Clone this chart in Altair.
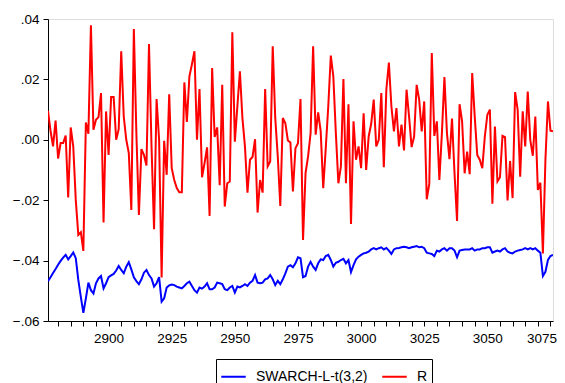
import altair as alt
import pandas as pd

t_start = 2876

swarch = [
    -0.0468, -0.0455, -0.0441, -0.0428, -0.0414, -0.0401, -0.0390, -0.0381, -0.0396, -0.0385,
    -0.0373, -0.0392, -0.0464, -0.0520, -0.0573, -0.0525, -0.0473, -0.0498, -0.0509, -0.0475,
    -0.0459, -0.0451, -0.0492, -0.0475, -0.0455, -0.0449, -0.0444, -0.0433, -0.0418, -0.0431,
    -0.0442, -0.0420, -0.0405, -0.0429, -0.0455, -0.0468, -0.0478, -0.0462, -0.0440, -0.0431,
    -0.0448, -0.0459, -0.0486, -0.0475, -0.0455, -0.0536, -0.0525, -0.0489, -0.0482, -0.0479,
    -0.0481, -0.0486, -0.0489, -0.0492, -0.0484, -0.0475, -0.0470, -0.0484, -0.0498, -0.0506,
    -0.0489, -0.0493, -0.0486, -0.0475, -0.0495, -0.0495, -0.0489, -0.0473, -0.0475, -0.0478,
    -0.0495, -0.0498, -0.0489, -0.0484, -0.0506, -0.0486, -0.0489, -0.0484, -0.0478, -0.0484,
    -0.0473, -0.0467, -0.0448, -0.0473, -0.0475, -0.0473, -0.0462, -0.0459, -0.0448, -0.0462,
    -0.0481, -0.0467, -0.0478, -0.0462, -0.0442, -0.0420, -0.0415, -0.0422, -0.0409, -0.0389,
    -0.0392, -0.0455, -0.0451, -0.0420, -0.0404, -0.0420, -0.0431, -0.0409, -0.0396, -0.0398,
    -0.0385, -0.0381, -0.0398, -0.0420, -0.0407, -0.0404, -0.0398, -0.0394, -0.0409, -0.0398,
    -0.0438, -0.0415, -0.0396, -0.0387, -0.0381, -0.0376, -0.0374, -0.0370, -0.0363, -0.0359,
    -0.0363, -0.0359, -0.0356, -0.0363, -0.0358, -0.0367, -0.0378, -0.0363, -0.0359, -0.0358,
    -0.0356, -0.0354, -0.0356, -0.0359, -0.0356, -0.0354, -0.0352, -0.0356, -0.0354, -0.0359,
    -0.0374, -0.0376, -0.0378, -0.0385, -0.0367, -0.0370, -0.0363, -0.0359, -0.0367, -0.0359,
    -0.0359, -0.0367, -0.0389, -0.0367, -0.0365, -0.0363, -0.0363, -0.0363, -0.0359, -0.0367,
    -0.0363, -0.0363, -0.0359, -0.0359, -0.0356, -0.0356, -0.0374, -0.0370, -0.0367, -0.0370,
    -0.0363, -0.0359, -0.0370, -0.0374, -0.0376, -0.0370, -0.0367, -0.0365, -0.0363, -0.0359,
    -0.0363, -0.0359, -0.0363, -0.0359, -0.0367, -0.0374, -0.0451, -0.0437, -0.0398, -0.0385,
    -0.0381,
]

r = [
    0.0096, 0.0030, -0.0022, 0.0064, -0.0062, -0.0011, -0.0011, 0.0014, -0.0191, 0.0041,
    -0.0022, -0.0199, -0.0315, -0.0306, -0.0368, 0.0057, 0.0020, 0.0379, 0.0033, 0.0066,
    0.0075, 0.0155, -0.0274, 0.0094, -0.0050, 0.0142, 0.0142, 0.0000, 0.0035, 0.0293,
    0.0077, 0.0000, -0.0044, -0.0232, 0.0367, 0.0022, -0.0249, -0.0031, -0.0050, -0.0085,
    0.0317, -0.0022, -0.0296, 0.0135, 0.0000, -0.0456, -0.0003, -0.0116, 0.0151, -0.0094,
    -0.0133, -0.0160, -0.0174, -0.0174, 0.0190, 0.0059, 0.0210, 0.0250, 0.0293, 0.0000,
    0.0168, -0.0124, -0.0077, -0.0025, -0.0252, 0.0238, 0.0009, 0.0041, -0.0150, 0.0182,
    -0.0221, -0.0144, -0.0138, 0.0356, -0.0006, 0.0111, 0.0227, 0.0072, -0.0022, -0.0175,
    -0.0066, -0.0057, 0.0002, -0.0241, -0.0133, -0.0175, 0.0168, -0.0088, -0.0072, 0.0310,
    0.0072, -0.0055, -0.0219, 0.0072, 0.0055, -0.0002, -0.0009, -0.0171, -0.0028, -0.0011,
    0.0135, -0.0332, -0.0110, -0.0055, 0.0022, 0.0310, 0.0017, 0.0091, 0.0028, -0.0160,
    -0.0028, 0.0111, 0.0279, 0.0210, 0.0022, -0.0144, -0.0088, 0.0201, -0.0144, 0.0118,
    -0.0279, 0.0061, -0.0066, -0.0022, -0.0094, 0.0088, -0.0100, 0.0011, 0.0053, 0.0133,
    -0.0022, 0.0000, 0.0155, -0.0091, 0.0166, 0.0256, 0.0111, 0.0028, 0.0105, -0.0022,
    0.0050, -0.0035, 0.0166, 0.0077, -0.0024, 0.0011, 0.0182, 0.0133, 0.0028, 0.0127,
    -0.0197, -0.0146, 0.0287, 0.0013, 0.0061, -0.0133, 0.0022, 0.0208, 0.0022, -0.0064,
    0.0070, -0.0111, -0.0269, 0.0118, 0.0061, -0.0111, -0.0039, -0.0114, 0.0221, 0.0077,
    -0.0050, -0.0066, -0.0094, 0.0011, 0.0083, 0.0100, -0.0212, 0.0044, -0.0138, -0.0124,
    0.0013, 0.0009, -0.0201, -0.0070, -0.0193, 0.0158, 0.0100, -0.0122, 0.0094, -0.0022,
    0.0160, 0.0000, -0.0053, 0.0077, -0.0166, -0.0142, -0.0376, -0.0066, 0.0127, 0.0030,
    0.0028,
]

series_names = ["SWARCH-L-t(3,2)", "R"]
series_colors = ["#0000FF", "#FF0000"]
x_domain = [2876, 3076]
x_ticks = list(range(2880, 3076, 5))
y_domain = [-0.06, 0.04]
y_ticks = [-0.06, -0.04, -0.02, 0.0, 0.02, 0.04]

t_vals = list(range(t_start, t_start + len(r)))
df = pd.DataFrame({
    "t": t_vals + t_vals,
    "value": swarch + r,
    "series": [series_names[0]] * len(swarch) + [series_names[1]] * len(r),
})

FONT = "Liberation Sans"

chart = alt.Chart(df).mark_line(strokeWidth=2, clip=True).encode(
    x=alt.X(
        "t:Q",
        scale=alt.Scale(domain=x_domain, nice=False, zero=False),
        axis=alt.Axis(
            values=x_ticks, format="d",
            labelExpr="datum.value % 25 == 0 ? datum.label : ''",
            title=None, grid=False, tickSize=5, labelOverlap=False,
            labelFlush=5, labelFlushOffset=6,
            labelFontSize=13.5, labelFont=FONT, labelColor="black",
            tickColor="black", domainColor="black", labelPadding=5,
        ),
    ),
    y=alt.Y(
        "value:Q",
        scale=alt.Scale(domain=y_domain, nice=False, zero=False),
        axis=alt.Axis(
            values=y_ticks,
            labelExpr="replace(format(datum.value, '.2f'), '0.', '.')",
            title=None, grid=False, tickSize=5,
            labelFontSize=13.5, labelFont=FONT, labelColor="black",
            tickColor="black", domainColor="black", labelPadding=4,
        ),
    ),
    color=alt.Color(
        "series:N",
        scale=alt.Scale(domain=series_names, range=series_colors),
        sort=series_names,
        legend=alt.Legend(
            orient="none", legendX=168, legendY=340, direction="horizontal",
            title=None, strokeColor="black", padding=4,
            symbolType="stroke", symbolStrokeWidth=2, symbolSize=600,
            labelFontSize=14, labelFont=FONT, labelColor="black",
            columnPadding=10, labelOffset=9,
        ),
    ),
).properties(
    width=505, height=302,
    autosize=alt.AutoSizeParams(type="none"),
    padding={"left": 40, "top": 11, "right": 4, "bottom": 62},
).configure_view(
    stroke="black", strokeWidth=1
).configure(background="white")

chart.save("out.html", embed_options={"renderer": "svg", "actions": False})
